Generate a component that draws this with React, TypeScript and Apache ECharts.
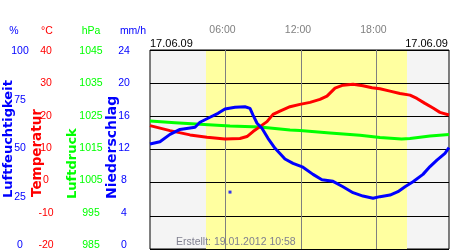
import React, { useEffect, useRef } from "react";
import * as echarts from "echarts";

// Time axis in hours of 17.06.09
const tempHours = [0, 1.59, 3.18, 4.53, 5.96, 7.15, 7.71, 8.19, 8.74, 9.3, 9.78, 10.33, 11.13, 11.92, 12.72, 13.51, 14.07, 14.71, 15.34, 16.14, 16.93, 17.65, 18.28, 19.08, 19.87, 20.67, 21.22, 21.86, 22.5, 23.05, 23.77];
const tempValues = [17.2, 15.7, 14.4, 13.7, 13.2, 13.3, 13.9, 15.4, 16.9, 18.4, 20.6, 21.6, 22.9, 23.6, 24.2, 25.1, 26.1, 28.5, 29.4, 29.7, 29.2, 28.6, 28.3, 27.6, 26.9, 26.4, 25.4, 23.9, 22.5, 21.2, 20.4];

const pressHours = [0, 1.99, 3.97, 6.36, 8.74, 11.13, 11.92, 14.31, 16.69, 18.28, 20.0, 20.67, 22.26, 23.77];
const pressValues = [1023.6, 1023.1, 1022.6, 1022.1, 1021.8, 1020.9, 1020.7, 1020.0, 1019.3, 1018.6, 1018.2, 1018.3, 1019.1, 1019.5];

const humHours = [0, 0.79, 1.59, 2.38, 3.58, 3.97, 4.77, 5.41, 5.96, 6.76, 7.55, 7.95, 8.19, 8.51, 8.9, 9.38, 9.94, 10.33, 10.73, 11.37, 12.16, 12.96, 13.67, 14.55, 15.34, 16.14, 16.93, 17.73, 18.28, 19.08, 19.71, 20.27, 20.91, 21.7, 22.26, 22.81, 23.45, 23.77];
const humValues = [52.8, 53.9, 57.6, 60.1, 61.2, 63.7, 66.2, 68.2, 70.4, 71.2, 71.5, 70.7, 67.3, 63.2, 60.7, 55.6, 50.6, 48.0, 45.2, 43.0, 41.1, 37.5, 34.8, 34.0, 31.3, 28.3, 26.6, 25.5, 26.3, 27.1, 28.8, 31.3, 33.8, 37.5, 41.4, 44.7, 48.1, 51.0];

const humOutlierHours = [6.36];
const humOutlierValues = [28.6];

const daylight = [4.45, 20.43];
const timeTicks = [6, 12, 18];

const humTicks = [0, 100, 25];
const tempTicks = [-20, 40, 10];
const pressTicks = [985, 1045, 10];
const precTicks = [0, 24, 4];

const unitLabels = ["%", "°C", "hPa", "mm/h"];
const axisTitles = ["Luftfeuchtigkeit", "Temperatur", "Luftdruck", "Niederschlag"];
const dateLabel = "17.06.09";
const createdLabel = "Erstellt: 19.01.2012 10:58";

const BLUE = "#0000ff";
const RED = "#ff0000";
const GREEN = "#00ff00";
const FONT = "Liberation Sans, Arial, sans-serif";

function pairs(xs: number[], ys: number[]) {
  return xs.map((x, i) => [x, ys[i]]);
}

export default function App() {
  const ref = useRef<HTMLDivElement>(null);
  useEffect(() => {
    if (!ref.current) return;
    const chart = echarts.init(ref.current, undefined, { renderer: "svg" });

    const labelAxis = (t: number[], color: string, margin: number) => ({
      type: "value",
      gridIndex: 1,
      position: "left",
      min: t[0],
      max: t[1],
      interval: t[2],
      axisLine: { show: false },
      axisTick: { show: false },
      splitLine: { show: false },
      axisLabel: {
        show: true,
        showMinLabel: true,
        showMaxLabel: true,
        color,
        fontFamily: FONT,
        fontSize: 10.5,
        align: "center",
        margin,
        formatter: (v: number) => String(v),
      },
    });
    const hiddenAxis = (t: number[]) => ({
      type: "value",
      gridIndex: 0,
      show: false,
      min: t[0],
      max: t[1],
      interval: t[2],
    });

    const titleSpec = [
      { x: 7.5, y: 198, color: BLUE, size: 13 },
      { x: 36, y: 197, color: RED, size: 13.5 },
      { x: 71, y: 199, color: GREEN, size: 13 },
      { x: 111, y: 199, color: BLUE, size: 14 },
    ];
    const unitX = [14, 47, 91, 133];
    const unitColor = [BLUE, RED, GREEN, BLUE];

    chart.setOption({
      animation: false,
      grid: [
        {
          left: 150,
          top: 50,
          width: 299,
          height: 199,
          show: true,
          backgroundColor: "#f4f4f4",
          borderColor: "#000",
          borderWidth: 1,
          outerBoundsMode: "none",
          containLabel: false,
        },
        { left: 150, top: 50, width: 299, height: 194, show: false, outerBoundsMode: "none", containLabel: false },
      ],
      xAxis: [
        {
          type: "value",
          gridIndex: 0,
          position: "top",
          min: 0,
          max: 23.77,
          interval: 6,
          z: 5,
          axisLine: { show: false },
          axisTick: { show: false },
          axisLabel: {
            show: true,
            showMinLabel: false,
            showMaxLabel: false,
            color: "#808080",
            fontFamily: FONT,
            fontSize: 10.5,
            margin: 21,
            verticalAlign: "middle",
            padding: [0, 6, 0, 0],
            formatter: (v: number) =>
              timeTicks.indexOf(v) >= 0 ? String(v).padStart(2, "0") + ":00" : "",
          },
          splitLine: {
            show: true,
            showMinLine: false,
            showMaxLine: false,
            lineStyle: { color: "#808080", width: 1 },
          },
        },
        { type: "value", gridIndex: 1, show: false, min: 0, max: 23.77 },
      ],
      yAxis: [
        {
          type: "value",
          gridIndex: 0,
          min: tempTicks[0],
          max: tempTicks[1],
          interval: tempTicks[2],
          z: 5,
          axisLine: { show: false },
          axisTick: { show: false },
          axisLabel: { show: false },
          splitLine: { show: true, lineStyle: { color: "#000", width: 1 } },
        },
        hiddenAxis(humTicks),
        hiddenAxis(pressTicks),
        hiddenAxis(precTicks),
        labelAxis(humTicks, BLUE, 130),
        labelAxis(tempTicks, RED, 104),
        labelAxis(pressTicks, GREEN, 59),
        labelAxis(precTicks, BLUE, 26),
      ],
      series: [
        {
          type: "line",
          xAxisIndex: 0,
          yAxisIndex: 0,
          data: [],
          z: 1,
          markArea: {
            silent: true,
            z: 1,
            itemStyle: { color: "#ffffa0" },
            data: [[{ xAxis: daylight[0] }, { xAxis: daylight[1] }]],
          },
        },
        {
          type: "line",
          xAxisIndex: 0,
          yAxisIndex: 2,
          data: pairs(pressHours, pressValues),
          showSymbol: false,
          lineStyle: { color: GREEN, width: 3 },
          z: 10,
        },
        {
          type: "line",
          xAxisIndex: 0,
          yAxisIndex: 0,
          data: pairs(tempHours, tempValues),
          showSymbol: false,
          lineStyle: { color: RED, width: 3 },
          z: 11,
        },
        {
          type: "line",
          xAxisIndex: 0,
          yAxisIndex: 1,
          data: pairs(humHours, humValues),
          showSymbol: false,
          lineStyle: { color: BLUE, width: 3 },
          z: 12,
        },
        {
          type: "scatter",
          xAxisIndex: 0,
          yAxisIndex: 1,
          data: pairs(humOutlierHours, humOutlierValues),
          symbol: "rect",
          symbolSize: [3, 3],
          itemStyle: { color: BLUE },
          z: 12,
        },
      ],
      graphic: [
        ...axisTitles.map((t, i) => ({
          type: "text",
          x: titleSpec[i].x,
          y: titleSpec[i].y,
          rotation: Math.PI / 2,
          style: {
            text: t,
            fill: titleSpec[i].color,
            font: `bold ${titleSpec[i].size}px DejaVu Sans, sans-serif`,
            textAlign: "left",
            textVerticalAlign: "middle",
          },
        })),
        ...unitLabels.map((u, i) => ({
          type: "text",
          x: unitX[i],
          y: 30,
          style: {
            text: u,
            fill: unitColor[i],
            font: `10.5px ${FONT}`,
            textAlign: "center",
            textVerticalAlign: "middle",
          },
        })),
        {
          type: "text",
          x: 150,
          y: 43,
          style: { text: dateLabel, fill: "#000", font: `11px ${FONT}`, textAlign: "left", textVerticalAlign: "middle" },
        },
        {
          type: "text",
          x: 448,
          y: 43,
          style: { text: dateLabel, fill: "#000", font: `11px ${FONT}`, textAlign: "right", textVerticalAlign: "middle" },
        },
        {
          type: "text",
          x: 176,
          y: 241,
          z: 20,
          style: { text: createdLabel, fill: "#808090", font: `10.5px ${FONT}`, textAlign: "left", textVerticalAlign: "middle" },
        },
      ],
    });
    return () => chart.dispose();
  }, []);
  return <div ref={ref} style={{ position: "fixed", left: 0, top: 0, width: 450, height: 250 }} />;
}
